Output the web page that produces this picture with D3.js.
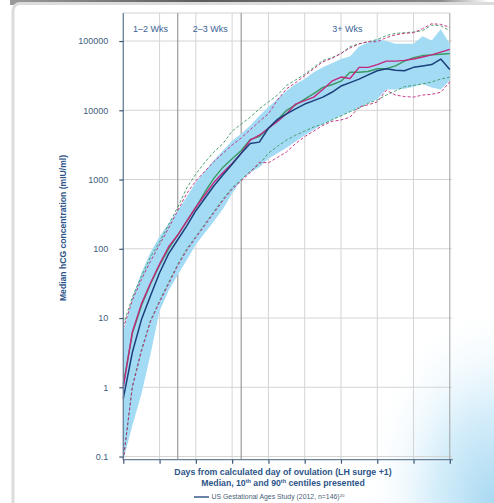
<!DOCTYPE html>
<html lang="en">
<head>
<meta charset="UTF-8">
<title>Median hCG concentration by day from ovulation</title>
<style>
    html, body {
        margin: 0;
        padding: 0;
        background: #ffffff;
        font-family: 'Liberation Sans', Arial, sans-serif;
    }
    #chart {
        position: absolute;
        left: 0;
        top: 0;
        width: 494px;
        height: 503px;
    }
</style>
</head>
<body>
<div id="chart"></div>

<script src="https://cdnjs.cloudflare.com/ajax/libs/d3/7.8.5/d3.min.js"></script>
<script>
// days from calculated day of ovulation (LH surge +1), axis unlabeled
const days = [0, 1, 2, 3, 4, 5, 6, 7, 8, 9, 10, 11, 12, 13, 14, 15, 16, 17, 18,
              19, 20, 21, 22, 23, 24, 25, 26, 27, 28, 29, 30, 31, 32, 33, 34, 35, 36];

// US Gestational Ages Study (2012, n=146) - median, 10th and 90th centile (blue band)
const usMedian = [0.69, 3.2, 9.5, 21, 45, 85, 135, 214, 355, 537, 813, 1175, 1660, 2400, 3310, 3470,
                  5500, 7400, 8900, 10500, 12300, 13800, 15500, 18200, 22400, 25100, 28200, 32400,
                  37200, 39800, 38000, 37200, 41700, 43700, 45700, 55000, 38900];
const usP10 = [0.089, 0.28, 0.8, 3.0, 12.6, 25, 42, 69, 115, 170, 251, 380, 631, 1000, 1260, 1510,
               2000, 2400, 2880, 3550, 4370, 5250, 6310, 7240, 8320, 9550, 11000, 12600, 14500,
               20000, 20000, 20400, 21900, 24000, 21400, 20000, 26900];
const usP90 = [6.3, 20, 45, 89, 151, 234, 355, 562, 912, 1320, 1900, 2630, 3630, 4570, 6030, 8320,
               11200, 14500, 19100, 24000, 28200, 35500, 41700, 47900, 55000, 60300, 83200, 95500,
               107000, 100000, 91200, 91200, 91200, 117000, 102000, 148000, 91200];

// comparison study A (green): median, 10th, 90th centile
const aMedian = [1.1, 6.0, 15, 31, 58, 100, 158, 251, 398, 661, 1050, 1510, 2000, 2630, 3800, 4170,
                 5500, 7240, 10000, 12000, 14500, 17400, 21400, 23400, 26300, 35500, 35500, 36300,
                 39800, 39800, 43700, 51300, 57500, 61700, 63100, 64600, 66100];
const aP10 = [0.089, 1.05, 3.5, 9.3, 17.8, 33, 60, 100, 151, 229, 347, 525, 759, 1000, 1320, 1660,
              2400, 3020, 3720, 4370, 5010, 5750, 6310, 7240, 8320, 9550, 10700, 12600, 14100,
              16600, 19100, 21900, 22900, 24000, 25700, 28200, 30200];
const aP90 = [7.9, 20, 40, 76, 126, 224, 398, 759, 1200, 1780, 2510, 3310, 5010, 6310, 7940, 10500,
              13200, 16600, 22900, 27500, 33100, 41700, 52500, 57500, 66100, 83200, 91200, 97700,
              105000, 120000, 129000, 132000, 135000, 141000, 170000, 166000, 141000];

// comparison study B (magenta): median, 10th, 90th centile
const bMedian = [1.0, 6.3, 16, 32, 60, 107, 158, 251, 398, 603, 912, 1260, 1700, 2400, 3720, 4370,
                 5500, 6900, 8900, 12300, 13800, 15500, 20000, 26300, 30200, 28800, 41700, 41700,
                 45700, 51300, 51300, 52500, 55000, 58900, 63100, 69200, 75900];
const bP10 = [0.089, 1.0, 3.3, 8.9, 17, 31, 57, 95, 145, 219, 331, 500, 724, 955, 1260, 1780,
              1740, 2090, 2510, 3310, 4170, 5010, 6030, 6920, 7240, 7940, 11200, 12000, 13200,
              19500, 16600, 15800, 15500, 16600, 17000, 18200, 25700];
const bP90 = [7.1, 18, 36, 66, 115, 200, 355, 631, 955, 1320, 1820, 2400, 3160, 3980, 5250, 6900,
              8900, 14100, 20400, 25100, 31600, 39800, 50100, 56200, 66100, 79400, 91200, 97700,
              97700, 112000, 123000, 129000, 132000, 151000, 178000, 174000, 158000];

const yTicks = [0.1, 1, 10, 100, 1000, 10000, 100000];
const xTicks = [0, 4, 8, 12, 16, 20, 24, 28, 32, 36];
const periodBreaks = [6, 13];
const periods = [
    { label: "1\u20132 Wks", day: 3 },
    { label: "2\u20133 Wks", day: 9.6 },
    { label: "3+ Wks", day: 24.7 }
];

const W = 494, H = 503;
const svg = d3.select("#chart").append("svg")
    .attr("width", W)
    .attr("height", H);

const defs = svg.append("defs");

// top shadow strip
const topGrad = defs.append("linearGradient").attr("id", "topGrad");
topGrad.append("stop").attr("offset", "0%").attr("stop-color", "#9a9a9a");
topGrad.append("stop").attr("offset", "40%").attr("stop-color", "#5c5c5c");
topGrad.append("stop").attr("offset", "90%").attr("stop-color", "#8a8a8a");
topGrad.append("stop").attr("offset", "100%").attr("stop-color", "#ffffff");

// blue glow in the lower right corner
const glow = defs.append("radialGradient").attr("id", "glow")
    .attr("cx", 1).attr("cy", 1).attr("r", 1);
glow.append("stop").attr("offset", "0%").attr("stop-color", "#a9d9f2");
glow.append("stop").attr("offset", "45%").attr("stop-color", "#d6eefa");
glow.append("stop").attr("offset", "100%").attr("stop-color", "#ffffff").attr("stop-opacity", 0);

svg.append("rect").attr("x", 0).attr("y", 0).attr("width", W).attr("height", H).attr("fill", "#fff");
svg.append("rect").attr("x", 10).attr("y", 0).attr("width", 478).attr("height", 5).attr("fill", "url(#topGrad)");
svg.append("rect").attr("x", 13).attr("y", 3.5).attr("width", 700).attr("height", 700)
    .attr("rx", 7).attr("fill", "#fff").attr("stroke", "#dcdcdc").attr("stroke-width", 3);
svg.append("rect").attr("x", 360).attr("y", 300).attr("width", 134).attr("height", 203).attr("fill", "url(#glow)");

// scales
const x = d3.scaleLinear().domain([0, 36]).range([123.3, 449.8]);
const y = d3.scaleLog().domain([0.09, 100000 * Math.pow(10, 0.405)]).range([459.7, 13]);

const plotTop = 13, plotBottom = 459.7;
const grid = svg.append("g");

// horizontal grid
grid.selectAll(".hg").data(yTicks).enter().append("line")
    .attr("x1", x(0)).attr("x2", x(36) + 2)
    .attr("y1", d => y(d)).attr("y2", d => y(d))
    .attr("stroke", "#d4d4d4").attr("stroke-width", 1);

// vertical grid
grid.selectAll(".vg").data(xTicks).enter().append("line")
    .attr("x1", d => x(d)).attr("x2", d => x(d))
    .attr("y1", plotTop).attr("y2", plotBottom)
    .attr("stroke", d => d === 36 ? "#a0a0a0" : "#d4d4d4").attr("stroke-width", 1);

// top frame
grid.append("line").attr("x1", x(0)).attr("x2", x(36))
    .attr("y1", plotTop).attr("y2", plotTop)
    .attr("stroke", "#d4d4d4").attr("stroke-width", 1.2);

// period dividers
grid.selectAll(".pb").data(periodBreaks).enter().append("line")
    .attr("x1", d => x(d)).attr("x2", d => x(d))
    .attr("y1", plotTop).attr("y2", plotBottom)
    .attr("stroke", "#9c9c9c").attr("stroke-width", 1.2);

// US study 10th-90th band
const bandData = days.map((d, i) => ({ d: d, lo: usP10[i], hi: usP90[i] }));
svg.append("path")
    .datum(bandData)
    .attr("fill", "#a3dbf5")
    .attr("d", d3.area()
        .x(p => x(p.d))
        .y0(p => y(p.lo))
        .y1(p => y(p.hi)));

const line = d3.line().x((v, i) => x(days[i])).y(v => y(v));

function drawLine(values, color, width, dash) {
    svg.append("path")
        .datum(values)
        .attr("fill", "none")
        .attr("stroke", color)
        .attr("stroke-width", width)
        .attr("stroke-dasharray", dash || null)
        .attr("stroke-linejoin", "round")
        .attr("d", line);
}

const green = "#3b9a62", magenta = "#c2277d", navy = "#1b3f7a";

// centile lines (dashed)
drawLine(aP90, green, 0.9, "3,2");
drawLine(bP90, magenta, 0.9, "3,2");
drawLine(aP10, green, 0.9, "3,2");
drawLine(bP10, magenta, 0.9, "3,2");

// medians
drawLine(aMedian, green, 1.4);
drawLine(bMedian, magenta, 1.4);
drawLine(usMedian, navy, 1.5);

// axes
const axisColor = "#6b819b";
const yAxis = svg.append("g")
    .attr("transform", `translate(${x(0)},0)`)
    .call(d3.axisLeft(y).tickValues(yTicks).tickSize(4).tickPadding(11)
        .tickFormat(d => d3.format("")(d)));
yAxis.select(".domain").attr("stroke", axisColor).attr("stroke-width", 1.3)
    .attr("d", `M0,${plotTop}V${plotBottom}`);
yAxis.selectAll(".tick line").attr("stroke", "#3d5573").attr("stroke-width", 1.2);
yAxis.selectAll(".tick text")
    .attr("fill", "#3f5d80")
    .style("font-size", "9px")
    .style("font-family", "'Liberation Sans', Arial, sans-serif");

const xAxis = svg.append("g")
    .attr("transform", `translate(0,${plotBottom})`)
    .call(d3.axisBottom(x).tickValues(xTicks).tickSize(4).tickFormat(""));
xAxis.select(".domain").attr("stroke", axisColor).attr("stroke-width", 1.3)
    .attr("d", `M${x(0)},0H${x(36) + 3}`);
xAxis.selectAll(".tick line").attr("stroke", "#3d5573").attr("stroke-width", 1.2);

// period labels
svg.selectAll(".period").data(periods).enter().append("text")
    .attr("x", d => x(d.day))
    .attr("y", 32)
    .attr("text-anchor", "middle")
    .attr("fill", "#3a6394")
    .style("font-size", "9px")
    .text(d => d.label);

// axis titles
svg.append("text")
    .attr("transform", "translate(66,228) rotate(-90)")
    .attr("text-anchor", "middle")
    .attr("fill", "#2c5488")
    .style("font-size", "8.6px")
    .style("font-weight", "bold")
    .text("Median hCG concentration (mIU/ml)");

svg.append("text")
    .attr("x", 283).attr("y", 474.5)
    .attr("text-anchor", "middle")
    .attr("fill", "#2c5488")
    .style("font-size", "8.8px")
    .style("font-weight", "bold")
    .text("Days from calculated day of ovulation (LH surge +1)");

const sub = svg.append("text")
    .attr("x", 283).attr("y", 485.5)
    .attr("text-anchor", "middle")
    .attr("fill", "#2c5488")
    .style("font-size", "8.7px")
    .style("font-weight", "bold");
sub.append("tspan").text("Median, 10");
sub.append("tspan").attr("dy", -3).style("font-size", "5.5px").text("th");
sub.append("tspan").attr("dy", 3).text(" and 90");
sub.append("tspan").attr("dy", -3).style("font-size", "5.5px").text("th");
sub.append("tspan").attr("dy", 3).text(" centiles presented");

// legend
svg.append("line")
    .attr("x1", 194).attr("x2", 209)
    .attr("y1", 497).attr("y2", 497)
    .attr("stroke", navy).attr("stroke-width", 1.3);
const leg = svg.append("text")
    .attr("x", 211.5).attr("y", 499.4)
    .attr("fill", "#4a5d75")
    .style("font-size", "6.9px");
leg.append("tspan").text("US Gestational Ages Study (2012, n=146)");
leg.append("tspan").attr("dy", -2.4).style("font-size", "4.4px").text("20");
</script>
</body>
</html>
